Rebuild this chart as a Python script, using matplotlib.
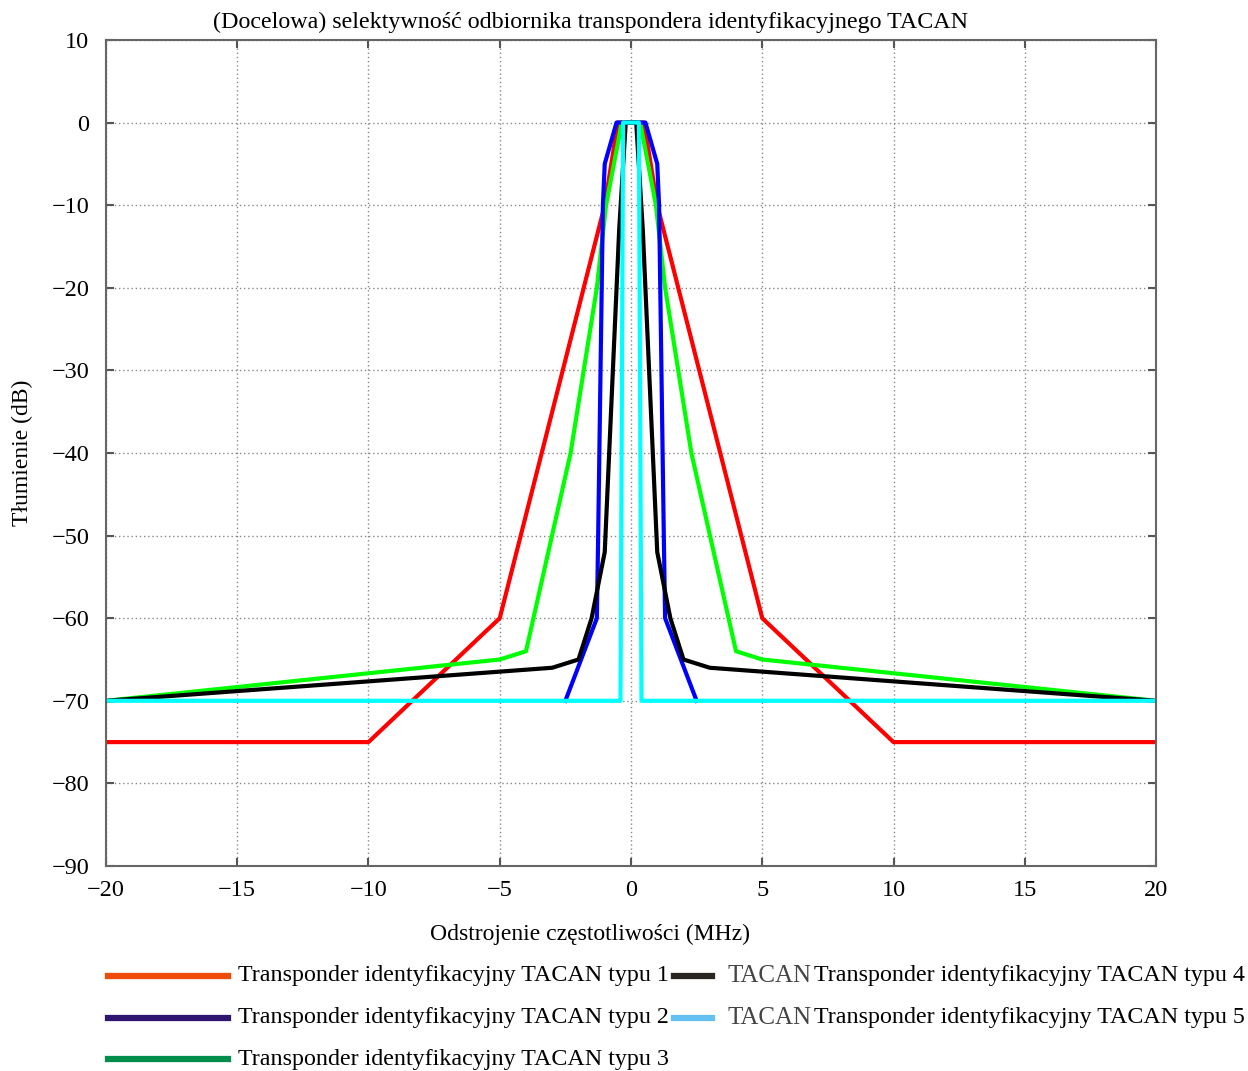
import numpy as np
import matplotlib
matplotlib.use("Agg")
from matplotlib import pyplot as plt
from matplotlib.lines import Line2D

plt.rcParams['font.family'] = ['Liberation Serif', 'DejaVu Serif']

# Transponder typu 1 (red)
freq_1 = [-20, -10, -5, -1, -0.5, 0.5, 1, 5, 10, 20]
att_1 = [-75, -75, -60, -10, 0, 0, -10, -60, -75, -75]
# typu 2 (blue)
freq_2 = [-2.5, -1.3, -1.25, -1.07, -1.0, -0.55, 0.55, 1.0, 1.07, 1.25, 1.3, 2.5]
att_2 = [-70, -60, -50, -10, -5, 0, 0, -5, -10, -50, -60, -70]
# typu 3 (green)
freq_3 = [-20, -5, -4, -2.3, -1.3, -0.95, -0.35, 0.35, 0.95, 1.3, 2.3, 4, 5, 20]
att_3 = [-70, -65, -64, -40, -20, -10, 0, 0, -10, -20, -40, -64, -65, -70]
# typu 4 (black)
freq_4 = [-20, -3, -2, -1.5, -1, -0.45, -0.2, 0.2, 0.45, 1, 1.5, 2, 3, 20]
att_4 = [-70, -66, -65, -60, -52, -13, 0, 0, -13, -52, -60, -65, -66, -70]
# typu 5 (cyan)
freq_5 = [-20, -0.4, -0.3, 0.3, 0.4, 20]
att_5 = [-70, -70, 0, 0, -70, -70]

labels = ["Transponder identyfikacyjny TACAN typu %d" % i for i in range(1, 6)]
xticks = [-20, -15, -10, -5, 0, 5, 10, 15, 20]
yticks = [10, 0, -10, -20, -30, -40, -50, -60, -70, -80, -90]

fig = plt.figure(figsize=(12.48, 10.71), dpi=100)
ax = fig.add_axes([0.0849, 0.1914, 0.8414, 0.7713])

lw = 3.0
ax.plot(freq_1, att_1, color='#ff0000', lw=lw)
ax.plot(freq_3, att_3, color='#00ff00', lw=lw)
ax.plot(freq_2, att_2, color='#0000ff', lw=lw)
ax.plot(freq_4, att_4, color='#000000', lw=lw)
ax.plot(freq_5, att_5, color='#00ffff', lw=lw)

ax.set_xlim(-20, 20)
ax.set_ylim(-90, 10)
ax.set_xticks(xticks)
ax.set_yticks(yticks)
ax.grid(True, linestyle=(0, (1, 2)), color='#888888', lw=1.0)
ax.tick_params(direction='in', length=6, width=1.5, color='#555555',
               top=True, right=True, labelsize=17.5)
ax.tick_params(axis='y', pad=12)
ax.tick_params(axis='x', pad=10)
for s in ax.spines.values():
    s.set_color('#666666')
    s.set_linewidth(1.5)

fig.text(0.473, 0.979, "(Docelowa) selektywność odbiornika transpondera identyfikacyjnego TACAN",
         ha='center', va='center', fontsize=17.3)
fig.text(0.473, 0.128, "Odstrojenie częstotliwości (MHz)", ha='center', va='center', fontsize=17)
fig.text(0.018, 0.577, "Tłumienie (dB)", ha='center', va='center', rotation=90, fontsize=17)

# legend drawn by hand, as in the reference
leg_colors = ['#f04a0a', '#2e1570', '#008c4a', '#2a2520', '#63c0f0']
rows = [1 - 976 / 1071, 1 - 1018 / 1071, 1 - 1059 / 1071]
for i in range(3):
    fig.add_artist(Line2D([108 / 1248, 228 / 1248], [rows[i], rows[i]],
                          transform=fig.transFigure, color=leg_colors[i], lw=4.5))
    fig.text(238 / 1248, rows[i], labels[i], ha='left', va='center', fontsize=17.3)
for j in range(2):
    fig.add_artist(Line2D([674 / 1248, 712 / 1248], [rows[j], rows[j]],
                          transform=fig.transFigure, color=leg_colors[3 + j], lw=4.5))
    fig.text(727 / 1248, rows[j], "TACAN", ha='left', va='center', fontsize=18,
             color='#444444')
    fig.text(1245 / 1248, rows[j], labels[3 + j], ha='right', va='center', fontsize=17.3)

fig.savefig("out.png", dpi=100)
